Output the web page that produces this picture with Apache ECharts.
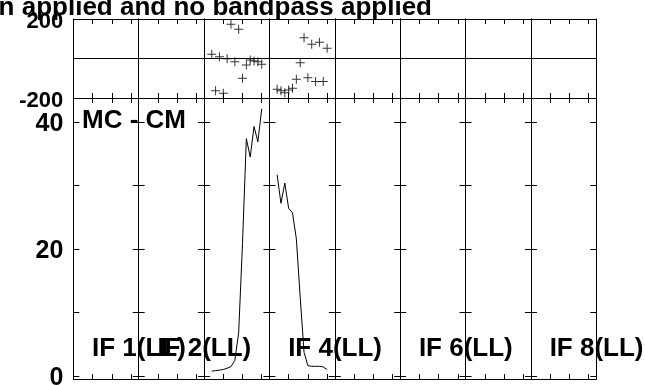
<!DOCTYPE html>
<html><head><meta charset="utf-8">
<script src="https://cdn.jsdelivr.net/npm/echarts@6/dist/echarts.min.js"></script>
<style>html,body{margin:0;padding:0;background:#fff}#c{width:645px;height:385px}</style>
</head><body><div id="c"></div>
<script>
// ---- text ----
const titleText = 'n applied and no bandpass applied';
const panelLabel = 'MC - CM';
const ifLabels = ['IF 1(LL)', 'IF 2(LL)', '', 'IF 4(LL)', '', 'IF 6(LL)', '', 'IF 8(LL)'];

// ---- axes ----
const chanMin = 0, chanMax = 17;
const chanTicks = [5, 10, 15];
const phaseMin = -200, phaseMax = 200, phaseInterval = 200;
const ampMin = -0.5, ampMax = 43.8;
const ampTicks = [0, 10, 20, 30, 40];
const ampLabels = [0, 20, 40];

// ---- data (channels 2..15 in IF 3 and IF 4) ----
const channels = [2, 3, 4, 5, 6, 7, 8, 9, 10, 11, 12, 13, 14, 15];
const phaseIF3 = [21, -163, 9, -176, -1, 173, -16, 148, -100, -33, -8, -13, -16, -29];
const phaseIF4 = [-156, -163, -173, -159, -151, -105, -21, 105, -97, 72, -117, 82, -117, 52];
const ampIF3 = [0.74, 0.82, 0.9, 1.0, 1.2, 1.45, 2.4, 6.8, 20.9, 37.4, 34.5, 39.3, 36.9, 42.1];
const ampIF4 = [31.7, 27.2, 30.4, 26.4, 25.7, 21.6, 12.4, 3.7, 1.6, 1.5, 1.5, 1.5, 1.4, 1.0];
const phaseByIF = { 3: phaseIF3, 4: phaseIF4 };
const ampByIF = { 3: ampIF3, 4: ampIF4 };

// ---- layout ----
const L = 73.3, R = 596.3, T1 = 19, B1 = 98, B2 = 379;
const nIF = 8;
const colW = (R - L) / nIF;
const FONT = 'Liberation Sans, Arial, sans-serif';

const chart = echarts.init(document.getElementById('c'), null, { renderer: 'canvas' });

const grids = [], xAxes = [], yAxes = [], series = [];
const plus = 'path://M4,0h1v4h4v1h-4v4h-1v-4h-4v-1h4z';

function xAx(g, pos) {
  return {
    type: 'value', gridIndex: g, position: pos, min: chanMin, max: chanMax,
    axisLine: { show: true, onZero: false, lineStyle: { color: '#000', width: 1 } },
    axisTick: { show: true, inside: true, length: 5, customValues: chanTicks, lineStyle: { color: '#000' } },
    axisLabel: { show: false },
    splitLine: { show: false }
  };
}

for (let p = 0; p < 2; p++) {
  for (let i = 0; i < nIF; i++) {
    const g = p * nIF + i;
    grids.push({
      left: L + i * colW, width: colW,
      top: p === 0 ? T1 : B1, height: p === 0 ? (B1 - T1) : (B2 - B1),
      containLabel: false, outerBoundsMode: 'none'
    });
    xAxes.push(xAx(g, 'bottom'));
    xAxes.push(xAx(g, 'top'));
    const first = i === 0;
    if (p === 0) {
      const yBase = {
        type: 'value', gridIndex: g, min: phaseMin, max: phaseMax, interval: phaseInterval,
        axisLine: { show: true, onZero: false, lineStyle: { color: '#000', width: 1 } },
        axisTick: { show: false }
      };
      yAxes.push(Object.assign({}, yBase, {
        position: 'left',
        splitLine: { show: true, lineStyle: { color: '#000', width: 1 } },
        axisLabel: {
          show: first, margin: 10, color: '#000', fontFamily: FONT, fontWeight: 'bold', fontSize: 22,
          verticalAlign: 'top', lineHeight: 6,
          formatter: v => (v === 0 ? '' : String(v))
        }
      }));
      yAxes.push(Object.assign({}, yBase, {
        position: 'right', splitLine: { show: false }, axisLabel: { show: false }
      }));
    } else {
      const yBase = {
        type: 'value', gridIndex: g, min: ampMin, max: ampMax,
        axisLine: { show: true, onZero: false, lineStyle: { color: '#000', width: 1 } },
        axisTick: { show: true, inside: true, length: 6, customValues: ampTicks, lineStyle: { color: '#000' } },
        splitLine: { show: false }
      };
      yAxes.push(Object.assign({}, yBase, {
        position: 'left',
        axisLabel: {
          show: first, margin: 10, color: '#000', fontFamily: FONT, fontWeight: 'bold', fontSize: 25,
          verticalAlign: 'top', lineHeight: 5,
          customValues: ampLabels
        }
      }));
      yAxes.push(Object.assign({}, yBase, { position: 'right', axisLabel: { show: false } }));
    }
  }
}

for (const k of [3, 4]) {
  const i = k - 1;
  series.push({
    type: 'scatter', xAxisIndex: 2 * i, yAxisIndex: 2 * i,
    symbol: plus, symbolSize: 9, itemStyle: { color: '#000' },
    data: channels.map((c, j) => [c, phaseByIF[k][j]]),
    silent: true
  });
  const g = nIF + i;
  series.push({
    type: 'line', xAxisIndex: 2 * g, yAxisIndex: 2 * g,
    showSymbol: false, symbol: 'none',
    lineStyle: { color: '#000', width: 1 },
    data: channels.map((c, j) => [c, ampByIF[k][j]]),
    silent: true
  });
}

const graphic = [
  { type: 'text', style: { x: 432, y: 7.5, text: titleText, align: 'right', verticalAlign: 'middle',
      fill: '#000', font: 'bold 26px ' + FONT } },
  { type: 'text', style: { x: 82, y: 120.5, text: panelLabel, align: 'left', verticalAlign: 'middle',
      fill: '#000', font: 'bold 26px ' + FONT } }
];
ifLabels.forEach((t, i) => {
  if (!t) return;
  graphic.push({ type: 'text', style: { x: L + i * colW + 18.7, y: 348.5, text: t, align: 'left',
    verticalAlign: 'middle', fill: '#000', font: 'bold 26px ' + FONT } });
});

chart.setOption({
  animation: false,
  backgroundColor: '#fff',
  grid: grids, xAxis: xAxes, yAxis: yAxes, series: series,
  graphic: graphic
});
</script></body></html>
